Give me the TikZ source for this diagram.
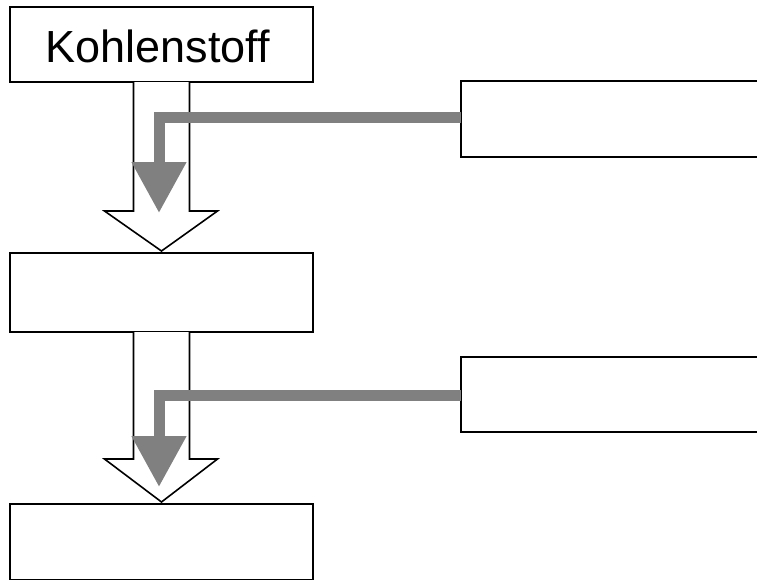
\documentclass[tikz,border=0pt]{standalone}
\usepackage{fontspec}
\setmainfont{Liberation Sans}
\usetikzlibrary{calc,arrows.meta}
\definecolor{arrowgray}{RGB}{128,128,128}
\tikzset{
  box/.style={draw=black, line width=1.8pt, fill=white, minimum width=303pt, inner sep=0pt, outer sep=0pt},
  sidebox/.style={draw=black, line width=1.8pt, fill=white, minimum width=340pt, inner sep=0pt, outer sep=0pt},
  hollow/.style={draw=black, line width=1.6pt, fill=white, line join=miter},
  grayarrow/.style={draw=arrowgray, line width=11pt, -{Triangle[length=51pt,width=52pt]}, arrowgray}
}
\begin{document}
\begin{tikzpicture}[x=1pt,y=-1pt]
\useasboundingbox (0,0) rectangle (757,579);
\clip (0,0) rectangle (757,579);
\fill[white] (0,0) rectangle (757,579);
% boxes
\node[box, minimum height=75pt] (k) at (161.5,44.5) {};
\node[font=\fontsize{45}{52}\selectfont] (kt) at (158,46) {Kohlenstoff};
\node[box, minimum height=79pt] (b2) at (161.5,292.5) {};
\node[box, minimum height=76pt] (b3) at (161.5,542) {};
\node[sidebox, minimum height=76pt] (r1) at (631,119) {};
\node[sidebox, minimum height=75pt] (r2) at (631,394.5) {};
% hollow arrows
\path[hollow] ($(k.south)+(-28,0)$) -- ($(k.south)+(-28,129)$) -- ($(k.south)+(-57,129)$)
  -- ($(b2.north)+(0,-2)$) -- ($(k.south)+(56,129)$) -- ($(k.south)+(28,129)$) -- ($(k.south)+(28,0)$);
\path[hollow] ($(b2.south)+(-28,0)$) -- ($(b2.south)+(-28,127)$) -- ($(b2.south)+(-57,127)$)
  -- ($(b3.north)+(0,-2)$) -- ($(b2.south)+(56,127)$) -- ($(b2.south)+(28,127)$) -- ($(b2.south)+(28,0)$);
% gray arrows
\coordinate (t1) at (159,213);
\coordinate (t2) at (159,487);
\draw[grayarrow] ([yshift=2pt]r1.west) -| (t1);
\draw[grayarrow] ([yshift=-1pt]r2.west) -| (t2);
\end{tikzpicture}
\end{document}
